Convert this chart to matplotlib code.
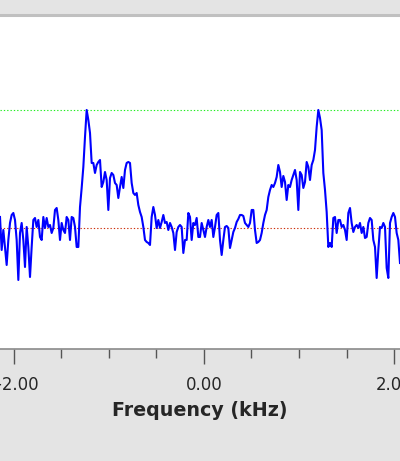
import matplotlib
matplotlib.use("Agg")
import matplotlib.pyplot as plt
import numpy as np

# spectrum, arbitrary units (baseline = 0)
intensity = [
    11, -22, -2, -20, -37, -12, 5, 13, 15, 8,
    -12, -52, -5, 5, -12, -39, 1, -19, -49, -19,
    8, 10, 1, 8, -9, -12, 11, 0, 10, 1,
    3, -5, 0, 18, 20, 8, -12, 5, -2, -5,
    11, 8, -12, 11, 10, 1, -19, -19, 21, 40,
    61, 91, 118, 108, 95, 65, 65, 55, 63, 66,
    # -1.1 .. -0.5 kHz
    68, 41, 46, 56, 48, 18, 50, 55, 53, 45,
    43, 30, 41, 51, 40, 58, 65, 66, 65, 45,
    35, 33, 35, 23, 16, 11, 1, -12, -14, -15,
    -17, 11, 21, 13, 0, 8, 0, 6, 13, 5,
    6, -2, 5, 1, -5, -22, -4, 1, 3, 1,
    -25, -12, -12, 15, 11, -12, 5, 3, 10, -9,
    # -0.05 .. 0.9 kHz
    -9, 5, -2, -9, 1, 8, 1, 8, -9, 1,
    13, 15, -12, -27, -12, 1, 2, 0, -20, -12,
    -4, 0, 6, 9, 13, 13, 12, 5, 3, 1,
    5, 18, 18, -2, -15, -14, -12, -5, 5, 13,
    18, 31, 38, 43, 41, 45, 51, 63, 56, 41,
    52, 46, 28, 43, 41, 48, 53, 58, 48, 18,
    # 1.0 .. 2.06 kHz
    56, 53, 40, 46, 66, 61, 48, 63, 68, 78,
    101, 118, 110, 98, 55, 38, 16, -19, -15, -19,
    10, 11, -5, 8, 8, 1, 3, -2, -12, 15,
    20, 5, -4, 1, 3, 0, 5, -5, 1, -10,
    -9, 5, 10, 8, -12, -19, -50, -22, 1, 0,
    5, 1, -40, -50, 5, 11, 15, 11, -5, -12,
    -35,
]
freq_lo = -2.147   # kHz at the first sample
freq_hi = 2.063    # kHz at the last sample
baseline = 0
peak_level = 118

major_ticks = [-2, 0, 2]
major_labels = ["\u22122.00", "0.00", "2.00"]
minor_ticks = [-1.5, -1, -0.5, 0.5, 1, 1.5]

freq = np.linspace(freq_lo, freq_hi, len(intensity))

fig = plt.figure(figsize=(4.0, 4.61), dpi=100, facecolor="#e4e4e4")
ax = fig.add_axes([0, 0.2419, 1, 0.7256])
ax.set_facecolor("white")

ax.axhline(peak_level, color="#22ee22", lw=0.8, linestyle=(0, (1.2, 1.8)))
ax.axhline(baseline, color="#cc3311", lw=0.8, linestyle=(0, (1.2, 1.8)))
ax.plot(freq, intensity, color="#0000ff", lw=1.5)

ax.set_xlim(freq_lo, freq_hi)
ax.set_ylim(-121.5, 213)

for side in ["left", "right"]:
    ax.spines[side].set_visible(False)
ax.spines["top"].set_color("#c0c0c0")
ax.spines["top"].set_linewidth(2.2)
ax.spines["bottom"].set_color("#8a8a8a")
ax.spines["bottom"].set_linewidth(1.2)

ax.set_yticks([])
ax.set_xticks(major_ticks)
ax.set_xticklabels(major_labels)
ax.set_xticks(minor_ticks, minor=True)
ax.tick_params(axis="x", which="major", length=10.8, width=1.0, color="#555555",
               pad=8, labelsize=11.9, labelcolor="#262626")
ax.tick_params(axis="x", which="minor", length=6.5, width=1.0, color="#555555")
for t in ax.xaxis.get_minor_ticks():
    if abs(abs(t.get_loc()) - 1) < 1e-6:
        t.tick1line.set_markersize(8.6)

ax.set_xlabel("Frequency (kHz)", fontsize=13.7, fontweight="bold",
              color="#262626", labelpad=5.6)

fig.savefig("out.png", dpi=100, facecolor=fig.get_facecolor())
